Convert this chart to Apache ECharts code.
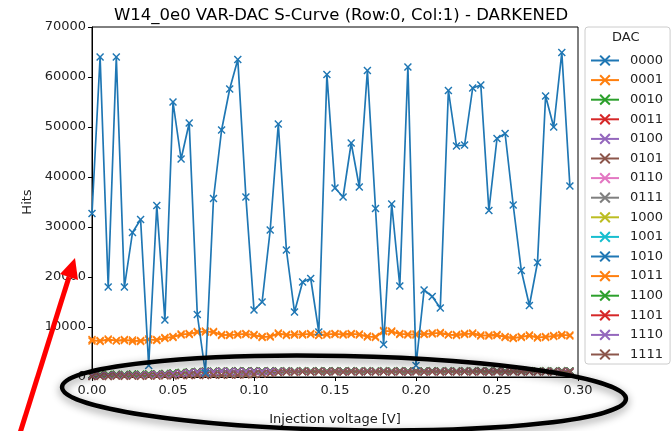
<!DOCTYPE html>
<html>
<head>
<meta charset="utf-8">
<script src="https://cdn.jsdelivr.net/npm/echarts@6/dist/echarts.min.js"></script>
<style>html,body{margin:0;padding:0;background:#fff;}#c{width:672px;height:431px;}</style>
</head>
<body>
<div id="c"></div>
<script>
const xVals = [0.000,0.005,0.010,0.015,0.020,0.025,0.030,0.035,0.040,0.045,
0.050,0.055,0.060,0.065,0.070,0.075,0.080,0.085,0.090,0.095,
0.100,0.105,0.110,0.115,0.120,0.125,0.130,0.135,0.140,0.145,
0.150,0.155,0.160,0.165,0.170,0.175,0.180,0.185,0.190,0.195,
0.200,0.205,0.210,0.215,0.220,0.225,0.230,0.235,0.240,0.245,
0.250,0.255,0.260,0.265,0.270,0.275,0.280,0.285,0.290,0.295];

const dacNames = ['0000','0001','0010','0011','0100','0101','0110','0111','1000','1001','1010','1011','1100','1101','1110','1111'];

const hits0000 = [32700,64000,18000,64000,18000,28900,31500,2300,34300,11400,
55000,43600,50800,12500,800,35700,49400,57600,63500,36000,
13400,15000,29400,50600,25400,13000,19000,19700,9000,60500,
37800,36000,46800,38000,61300,33700,6500,34600,18200,62000,
2300,17400,16100,13800,57300,46200,46400,57800,58400,33300,
47700,48700,34400,21300,14300,22900,56200,50000,64900,38200];

const hits0001 = [7200,7300,7400,7300,7500,7100,7300,7400,7500,7700,
8100,8400,8700,8900,9200,8900,8500,8300,8600,8500,
8500,7900,8200,8600,8500,8400,8600,8500,8400,8600,
8500,8600,8700,8400,8200,7900,9300,9000,8700,8400,
8600,8500,8800,8700,8400,8500,8700,8600,8200,8400,
8500,7900,7700,8100,8200,8000,7900,8300,8500,8200];

const hits1011 = [7500,7100,7600,7200,7300,7400,7100,7600,7300,7900,
7900,8600,8500,9100,9000,9100,8300,8500,8400,8700,
8300,8100,8000,8800,8300,8600,8400,8700,8300,8400,
8700,8400,8500,8600,8000,8100,9100,9200,8500,8600,
8400,8700,8600,8900,8500,8300,8500,8800,8400,8200,
8300,8100,7900,7900,8400,7800,8100,8100,8300,8400];

const hitsLowEarly = [450,520,480,560,500,580,540,620,600,700,
820,900,1000,1080,1200,1150,1220,1180,1250,1200,
1230,1180,1250,1200,1230,1190,1250,1210,1240,1200,
1250,1210,1240,1200,1250,1210,1240,1200,1250,1210,
1240,1200,1250,1210,1240,1200,1250,1210,1240,1200,
1250,1210,1240,1200,1250,1210,1240,1200,1250,1220];

const hitsLowMid = [300,350,320,380,340,400,380,450,480,560,
650,760,880,980,1100,1050,1150,1080,1160,1100,
1150,1090,1160,1100,1150,1100,1160,1100,1150,1100,
1160,1100,1150,1100,1160,1100,1150,1100,1160,1100,
1150,1100,1160,1100,1150,1100,1160,1100,1150,1100,
1160,1100,1150,1100,1160,1100,1150,1100,1160,1120];

const hitsLowLate = [100,150,120,180,140,200,160,220,200,260,
240,300,280,340,320,380,360,420,400,460,
500,600,750,900,1000,950,1050,1000,1060,1000,
1050,1000,1060,1000,1050,1000,1060,1000,1050,1000,
1060,1000,1050,1000,1060,1000,1050,1000,1060,1000,
1050,1000,1060,1000,1050,1000,1060,1000,1050,1020];

const yTicks = [0,10000,20000,30000,40000,50000,60000,70000];
const xTicks = [0.00,0.05,0.10,0.15,0.20,0.25,0.30];

const seriesData = {
  '0000': hits0000, '0001': hits0001, '0010': hitsLowEarly, '0011': hitsLowMid,
  '0100': hitsLowMid, '0101': hitsLowLate, '0110': hitsLowMid, '0111': hitsLowMid,
  '1000': hitsLowMid, '1001': hitsLowMid, '1010': hitsLowMid, '1011': hits1011,
  '1100': hitsLowEarly, '1101': hitsLowMid, '1110': hitsLowMid, '1111': hitsLowLate
};

const palette = ['#1f77b4','#ff7f0e','#2ca02c','#d62728','#9467bd','#8c564b','#e377c2','#7f7f7f','#bcbd22','#17becf'];
const xSym = 'path://M0,1.3L1.3,0L5,3.7L8.7,0L10,1.3L6.3,5L10,8.7L8.7,10L5,6.3L1.3,10L0,8.7L3.7,5Z';
const FONT = 'DejaVu Sans';

const series = dacNames.map((name, i) => {
  const vals = seriesData[name];
  const col = palette[i % 10];
  return {
    name: name,
    type: 'line',
    data: xVals.map((x, k) => [x, vals[k]]),
    symbol: xSym,
    symbolSize: 8,
    showSymbol: true,
    lineStyle: { width: 1.7, color: col },
    itemStyle: { color: col },
    z: name === '0000' ? 5 : (name === '0001' || name === '1011' ? 4 : 3),
    animation: false
  };
});

const chart = echarts.init(document.getElementById('c'), null, { renderer: 'canvas' });
chart.setOption({
  animation: false,
  color: palette,
  title: {
    text: 'W14_0e0 VAR-DAC S-Curve (Row:0, Col:1) - DARKENED',
    left: 336, top: 2, textAlign: 'center',
    textStyle: { fontFamily: FONT, fontSize: 16.5, fontWeight: 'normal', color: '#000' }
  },
  grid: { left: 92, right: 94, top: 27, bottom: 44, show: true, borderColor: '#000', borderWidth: 1, backgroundColor: 'transparent' },
  xAxis: {
    type: 'value', min: 0, max: 0.30, interval: 0.05,
    name: 'Injection voltage [V]', nameLocation: 'middle', nameGap: 36,
    nameTextStyle: { fontFamily: FONT, fontSize: 13, color: '#222' },
    axisLine: { show: true, lineStyle: { color: '#000' } },
    axisTick: { show: true, length: 4, lineStyle: { color: '#000' } },
    axisLabel: { fontFamily: FONT, fontSize: 13, color: '#222', margin: 7,
      formatter: v => { const t = xTicks.find(q => Math.abs(q - v) < 1e-9); return (t !== undefined ? t : v).toFixed(2); } },
    splitLine: { show: false }
  },
  yAxis: {
    type: 'value', min: 0, max: 70000, interval: 10000,
    name: 'Hits', nameLocation: 'middle', nameGap: 58,
    nameTextStyle: { fontFamily: FONT, fontSize: 13, color: '#222' },
    axisLine: { show: true, lineStyle: { color: '#000' } },
    axisTick: { show: true, length: 4, lineStyle: { color: '#000' } },
    axisLabel: { fontFamily: FONT, fontSize: 13, color: '#222', margin: 6,
      formatter: v => String(yTicks.find(q => q === v) ?? v) },
    splitLine: { show: false }
  },
  legend: {
    orient: 'vertical', left: 585, top: 27,
    data: dacNames,
    itemWidth: 28, itemHeight: 14, itemGap: 6.6,
    padding: [27, 7, 3, 5],
    backgroundColor: '#fff', borderColor: '#ccc', borderWidth: 1, borderRadius: 3,
    textStyle: { fontFamily: FONT, fontSize: 13, color: '#222', padding: [0, 0, 0, 6] }
  },
  graphic: [
    { type: 'text', left: 612, top: 31, style: { text: 'DAC', font: '13px "DejaVu Sans"', fill: '#222' }, z: 100 },
    { type: 'ellipse', shape: { cx: 344, cy: 393, rx: 282, ry: 37 }, originX: 344, originY: 393, rotation: -0.021,
      style: { fill: null, stroke: '#000', lineWidth: 4.5, shadowBlur: 8, shadowColor: 'rgba(0,0,0,0.45)', shadowOffsetY: 3 }, z: 100 },
    { type: 'line', shape: { x1: 20, y1: 433, x2: 69, y2: 277 }, style: { stroke: '#ff0000', lineWidth: 5 }, z: 101 },
    { type: 'polygon', shape: { points: [[75, 258], [78, 280], [60, 274]] }, style: { fill: '#ff0000' }, z: 101 }
  ],
  series: series
});
</script>
</body>
</html>
